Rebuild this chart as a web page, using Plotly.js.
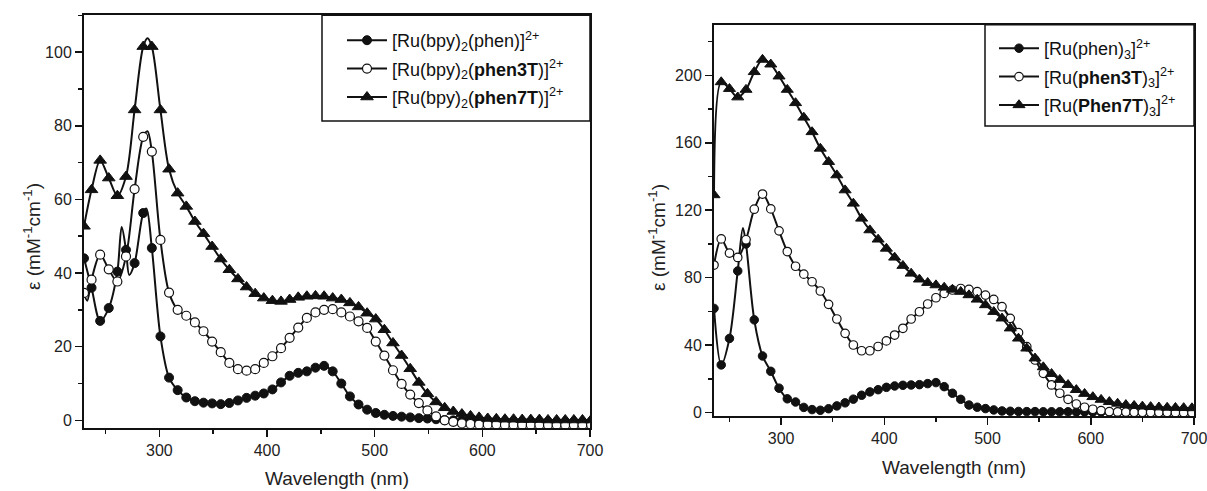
<!DOCTYPE html>
<html><head><meta charset="utf-8">
<script src="https://cdn.plot.ly/plotly-3.0.1.min.js"></script>
<style>html,body{margin:0;padding:0;background:#fff}#chart{width:1207px;height:491px}</style>
</head><body><div id="chart"></div>
<script>
// ---------- Left panel: [Ru(bpy)2(L)]2+ ----------
const wlLeft = [230,237,245,253,261,269,277,285,293,301,309,317,325,333,341,349,357,365,373,381,389,397,405,413,421,429,437,445,453,461,469,477,485,493,501,509,517,525,533,541,549,557,565,573,581,589,597,605,613,621,629,637,645,653,661,669,677,685,693,701];
const bpyPhen = [44,36,27,30.5,40.4,46.3,42.7,56.3,46.8,22.8,11.6,8.2,6.2,5.2,4.8,4.6,4.4,4.7,5.4,6.1,6.7,7.3,8.4,10.3,12.1,12.9,13.3,14.3,14.8,13.3,10.0,6.5,4.3,2.9,2.0,1.5,1.2,1.0,0.8,0.6,0.5,0.3,0.1,0.0,-0.1,-0.2,-0.3,-0.3,-0.3,-0.3,-0.4,-0.4,-0.4,-0.4,-0.4,-0.4,-0.4,-0.4,-0.4,-0.4];
const bpyPhen3T = [34.6,38.2,45,41,37.7,44.5,62.8,77,73,49,34.7,30.0,28.4,26.6,24.2,21.4,18.5,15.6,13.9,13.5,13.9,15.6,17.4,19.6,22.4,25.2,27.8,29.3,30.0,30.2,29.3,28.2,26.9,25.1,21.4,17.6,13.6,9.9,7.0,4.7,2.7,1.1,0.0,-0.4,-0.8,-1.0,-1.1,-1.1,-1.1,-1.2,-1.2,-1.2,-1.2,-1.2,-1.2,-1.2,-1.2,-1.2,-1.2,-1.2];
const bpyPhen7T = [52.7,62.6,70.6,65.8,61,66.2,84.3,101.5,101.5,84.3,68.2,61.7,58.1,54,50.7,47.2,43.8,40.9,38.4,36.2,34.4,33.2,32.5,32.3,32.8,33.4,33.7,33.8,33.7,33.2,32.8,31.9,30.8,29.1,27.5,24.6,21,17.6,14.0,10.3,7.2,5.0,3.4,2.4,1.7,1.2,0.8,0.5,0.4,0.3,0.3,0.2,0.2,0.2,0.1,0.1,0.1,0.1,0.1,0.1];
// extra points (line only)
const bpyPhenLineWl = [265,272,288];   const bpyPhenLineEps = [52.5,39.5,57.5];
const bpyPhen3TLineWl = [233,289];     const bpyPhen3TLineEps = [32.5,78.5];
const bpyPhen7TLineWl = [289];         const bpyPhen7TLineEps = [103.8];

// ---------- Right panel: [Ru(L)3]2+ ----------
const wlRight = [235,242,250,258,266,274,282,290,298,306,314,322,330,338,346,354,362,370,378,386,394,402,410,418,426,434,442,450,458,466,474,482,490,498,506,514,522,530,538,546,554,562,570,578,586,594,602,610,618,626,634,642,650,658,666,674,682,690,698];
const phen3 = [61.8,28.3,44,84,100,55,33.6,24.5,14.5,8.2,6.3,3.1,1.8,1.4,2.3,4.0,5.8,8.0,10.3,12.3,13.6,15.0,15.8,16.2,16.4,16.6,17.2,17.8,15.4,11.5,7.9,4.5,3.2,2.4,1.6,1.0,0.8,0.7,0.6,0.6,0.5,0.5,0.5,0.5,0.4,0.4,0.4,0.4,0.4,0.3,0.3,0.3,0.3,0.3,0.3,0.3,0.3,0.3,0.3];
const phen3T3 = [87.5,103,94.6,92,102.5,120.6,129.6,120.8,107.8,95.5,86.8,82.1,77.6,72.1,64.2,55.5,47.0,40.1,36.7,36.7,39.2,42.5,46.0,50.0,55.5,59.8,64.4,68.1,70.7,72.7,73.6,73.1,71.7,69.7,67.1,62.8,55.9,47.4,39.1,31.2,23.3,16.4,11.5,7.9,5.1,3.2,2.0,1.2,0.6,0.4,0.3,0.2,0.2,0.1,0.1,0.1,0.0,0.0,0.0];
const phen7T3 = [129,196,192,187,191.5,202,209.3,206.5,199.4,191.5,183.6,175,166.4,156.6,148.7,140.8,131.9,124,115.1,108.2,102.7,97.3,92,87.1,82.5,79,77,75.6,74.2,73,71.7,69.7,67.1,63.8,59.8,55.9,50,44,38.1,32.2,27,23,19.5,16.5,13.5,11.2,9.3,7.7,6.4,5.4,4.6,4.1,3.7,3.4,3.2,3.0,2.9,2.8,2.7];
const phen3LineWl = [263];  const phen3LineEps = [109.5];
const phen3T3LineWl = [];   const phen3T3LineEps = [];
const phen7T3LineWl = [];   const phen7T3LineEps = [];

const namesLeft = ['[Ru(bpy)<sub>2</sub>(phen)]<sup>2+</sup>', '[Ru(bpy)<sub>2</sub>(<b>phen3T</b>)]<sup>2+</sup>', '[Ru(bpy)<sub>2</sub>(<b>phen7T</b>)]<sup>2+</sup>'];
const namesRight = ['[Ru(phen)<sub>3</sub>]<sup>2+</sup>', '[Ru(<b>phen3T</b>)<sub>3</sub>]<sup>2+</sup>', '[Ru(<b>Phen7T</b>)<sub>3</sub>]<sup>2+</sup>'];

const INK = '#111111';
const FONT = 'Liberation Sans, Arial, sans-serif';

function mergeLine(xs, ys, ex, ey) {
  const pts = xs.map((x, i) => [x, ys[i]]).concat(ex.map((x, i) => [x, ey[i]]));
  pts.sort((a, b) => a[0] - b[0]);
  return {x: pts.map(p => p[0]), y: pts.map(p => p[1])};
}
function markerStyle(kind, size) {
  if (kind === 'filled') return {symbol: 'circle', size: size, color: INK, line: {color: INK, width: 1}};
  if (kind === 'open') return {symbol: 'circle', size: size, color: '#ffffff', line: {color: INK, width: 1.2}};
  return {symbol: 'triangle-up', size: size + 2, color: INK, line: {color: INK, width: 1}};
}
function series(name, xs, ys, ex, ey, kind, size, xa, ya, legend, group) {
  const ln = mergeLine(xs, ys, ex, ey);
  const m = markerStyle(kind, size);
  return [
    {x: ln.x, y: ln.y, xaxis: xa, yaxis: ya, mode: 'lines', legendgroup: group, showlegend: false,
     line: {color: INK, width: 2, shape: 'spline', smoothing: 0.9}, hoverinfo: 'skip'},
    {x: xs, y: ys, xaxis: xa, yaxis: ya, mode: 'markers', legendgroup: group, showlegend: false, marker: m, name: name},
    {x: [null], y: [null], xaxis: xa, yaxis: ya, mode: 'lines+markers', legend: legend, legendgroup: group,
     showlegend: true, name: name, line: {color: INK, width: 2}, marker: m}
  ];
}

const data = [].concat(
  series(namesLeft[0], wlLeft, bpyPhen, bpyPhenLineWl, bpyPhenLineEps, 'filled', 9, 'x', 'y', 'legend', 'L1'),
  series(namesLeft[1], wlLeft, bpyPhen3T, bpyPhen3TLineWl, bpyPhen3TLineEps, 'open', 9, 'x', 'y', 'legend', 'L2'),
  series(namesLeft[2], wlLeft, bpyPhen7T, bpyPhen7TLineWl, bpyPhen7TLineEps, 'tri', 9, 'x', 'y', 'legend', 'L3'),
  series(namesRight[0], wlRight, phen3, phen3LineWl, phen3LineEps, 'filled', 8.5, 'x2', 'y2', 'legend2', 'R1'),
  series(namesRight[1], wlRight, phen3T3, phen3T3LineWl, phen3T3LineEps, 'open', 8.5, 'x2', 'y2', 'legend2', 'R2'),
  series(namesRight[2], wlRight, phen7T3, phen7T3LineWl, phen7T3LineEps, 'tri', 8.5, 'x2', 'y2', 'legend2', 'R3')
);

const W = 1207, H = 491;
const px = v => v / W, py = v => 1 - v / H;

function axis(extra) {
  return Object.assign({
    showline: true, linecolor: INK, linewidth: 2, mirror: true,
    ticks: 'outside', ticklen: 7, tickwidth: 1.5, tickcolor: INK,
    showgrid: false, zeroline: false, automargin: false, ticklabeloverflow: 'allow',
    tickfont: {family: FONT, size: 16, color: '#222'}
  }, extra);
}
const minorTicks = d => ({dtick: d, ticks: 'outside', ticklen: 4, tickwidth: 1.5, tickcolor: INK, showgrid: false});
const legendBase = {xanchor: 'left', yanchor: 'top', bgcolor: 'rgba(0,0,0,0)', borderwidth: 0,
  font: {family: FONT, size: 18, color: '#111'}, tracegroupgap: 2, itemwidth: 40, itemsizing: 'trace'};

const layout = {
  width: W, height: H, margin: {l: 0, r: 0, t: 0, b: 0},
  paper_bgcolor: '#fff', plot_bgcolor: '#fff', showlegend: true,
  font: {family: FONT, color: '#222'},
  xaxis: axis({domain: [px(84), px(590)], range: [230, 700], tick0: 0, dtick: 100, minor: minorTicks(50), anchor: 'y',
    title: {text: 'Wavelength (nm)', font: {family: FONT, size: 19, color: '#222'}, standoff: 14}}),
  yaxis: axis({domain: [py(427.7), py(15.3)], range: [-2, 110], tick0: 0, dtick: 20, minor: minorTicks(10), anchor: 'x'}),
  xaxis2: axis({domain: [px(714), px(1194)], range: [235, 700], tick0: 0, dtick: 100, minor: minorTicks(50), anchor: 'y2',
    title: {text: 'Wavelength (nm)', font: {family: FONT, size: 19, color: '#222'}, standoff: 14}}),
  yaxis2: axis({domain: [py(416), py(24.7)], range: [-2, 230], tick0: 0, dtick: 40, minor: minorTicks(20), anchor: 'x2'}),
  legend: Object.assign({}, legendBase, {x: px(342), y: py(22)}),
  legend2: Object.assign({}, legendBase, {x: px(994), y: py(30)}),
  shapes: [
    {type: 'rect', xref: 'paper', yref: 'paper', x0: px(322), x1: px(590), y0: py(121), y1: py(15.3), line: {color: INK, width: 1.5}, fillcolor: 'rgba(0,0,0,0)'},
    {type: 'rect', xref: 'paper', yref: 'paper', x0: px(985), x1: px(1194), y0: py(126), y1: py(24.7), line: {color: INK, width: 1.5}, fillcolor: 'rgba(0,0,0,0)'}
  ],
  annotations: [
    {text: 'ε (mM<sup>-1</sup>cm<sup>-1</sup>)', xref: 'paper', yref: 'paper', x: px(32), y: py(237), textangle: -90,
     showarrow: false, xanchor: 'center', yanchor: 'middle', font: {family: FONT, size: 19, color: '#222'}},
    {text: 'ε (mM<sup>-1</sup>cm<sup>-1</sup>)', xref: 'paper', yref: 'paper', x: px(657), y: py(238), textangle: -90,
     showarrow: false, xanchor: 'center', yanchor: 'middle', font: {family: FONT, size: 19, color: '#222'}}
  ]
};

Plotly.newPlot('chart', data, layout, {displayModeBar: false, staticPlot: true});
</script>
</body></html>
